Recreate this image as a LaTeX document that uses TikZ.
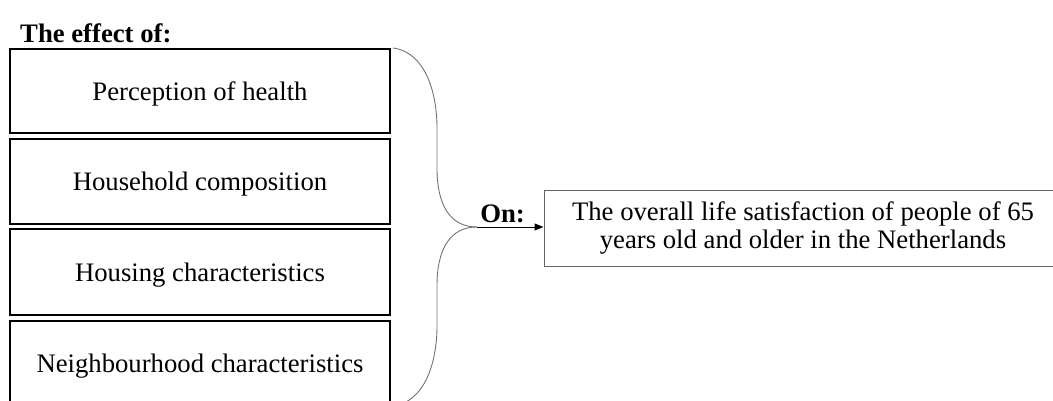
\documentclass[tikz,border=0pt]{standalone}
\usepackage{fontspec}
\setmainfont{Liberation Serif}
\usetikzlibrary{arrows.meta}
\tikzset{
  txt/.style={font=\fontsize{26.7}{28}\selectfont, inner sep=0pt},
  factorbox/.style={txt, draw=black, line width=1.3pt, minimum width=380pt, align=center,
    text height=18pt, text depth=0pt},
  outcomebox/.style={txt, draw=black!60, line width=1pt, minimum width=518pt, minimum height=76pt, align=center},
  bracecurve/.style={draw=black!55, line width=0.9pt},
  link/.style={draw=black, line width=1pt, -{Triangle[length=9pt,width=7pt]}},
}
\begin{document}
\begin{tikzpicture}[x=1pt,y=-1pt]
  \useasboundingbox (0,0) rectangle (1053,400);

  % heading
  \node[txt, anchor=base west, font=\fontsize{26.7}{28}\selectfont\bfseries] (head) at (20,42) {The effect of:};

  % the four factors
  \node[factorbox, minimum height=84pt] (f1) at (200,91)    {Perception of health};
  \node[factorbox, minimum height=85pt] (f2) at (200,181.5) {Household composition};
  \node[factorbox, minimum height=86pt] (f3) at (200,272)   {Housing characteristics};
  \node[factorbox, minimum height=85pt] (f4) at (200,363.5) {Neighbourhood characteristics};

  % outcome
  \node[outcomebox] (out) at (803,228) {The overall life satisfaction of people of 65\\years old and older in the Netherlands};

  % curly brace gathering the factors
  \coordinate (btop) at (393,48);
  \coordinate (bbot) at (393,406);
  \coordinate (tip)  at (477,227);
  \draw[bracecurve] (btop) .. controls (425,52) and (437,92) .. (437,128)
        -- (437,168) .. controls (437,205) and (450,227) .. (tip);
  \draw[bracecurve] (tip) .. controls (450,227) and (437,249) .. (437,286)
        -- (437,326) .. controls (437,362) and (425,402) .. (bbot);

  \node[txt, anchor=base, font=\fontsize{26.7}{28}\selectfont\bfseries] (on) at (502.5,222) {On:};
  \draw[link] (tip) -- (tip -| out.west);
\end{tikzpicture}
\end{document}
